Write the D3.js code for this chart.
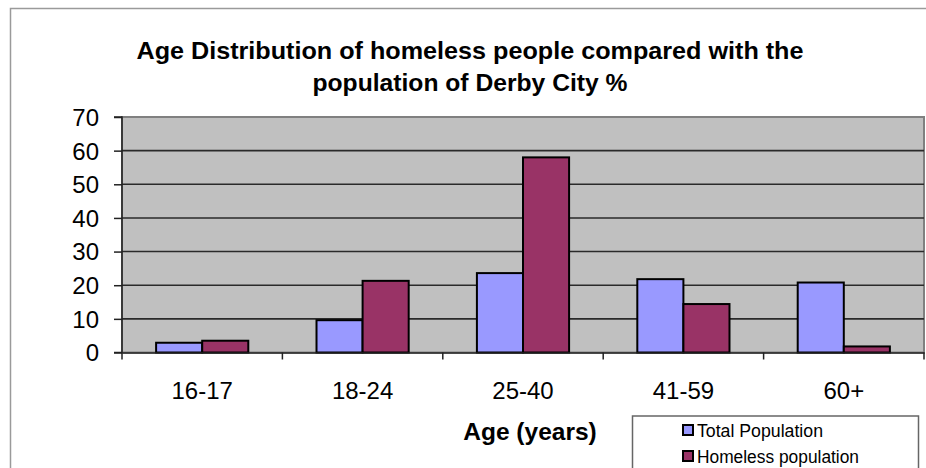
<!DOCTYPE html>
<html><head><meta charset="utf-8">
<script src="https://cdn.jsdelivr.net/npm/d3@7"></script>
<style>html,body{margin:0;padding:0;background:#fff;}svg{display:block;font-family:Arial,"Liberation Sans",sans-serif;}</style>
</head><body>
<svg id="c" width="926" height="468"></svg>
<script>
const categories = ["16-17","18-24","25-40","41-59","60+"];
const totalPopulation = [2.9, 9.6, 23.6, 21.8, 20.8];
const homelessPopulation = [3.5, 21.3, 58.0, 14.4, 1.8];
const seriesNames = ["Total Population","Homeless population"];
const seriesColors = ["#9999ff","#993366"];
const yTicks = [0,10,20,30,40,50,60,70];
const titleLines = ["Age Distribution of homeless people compared with the","population of Derby City %"];
const xTitle = "Age (years)";

const svg = d3.select("#c");
const m = {left:122, right:924, top:117, bottom:352.5};

// outer chart border
svg.append("path").attr("d","M10.5,468 V8.5 H926").attr("fill","none").attr("stroke","#9a9a9a").attr("stroke-width",1.5);

const x = d3.scaleBand().domain(categories).range([m.left,m.right]).paddingInner(0).paddingOuter(0);
const y = d3.scaleLinear().domain([0,70]).range([m.bottom,m.top]);

// plot area
svg.append("rect").attr("x",m.left).attr("y",m.top).attr("width",m.right-m.left).attr("height",m.bottom-m.top)
  .attr("fill","#c0c0c0").attr("stroke","#808080").attr("stroke-width",2);

// gridlines
svg.append("g").selectAll("line").data(yTicks.filter(d=>d>0 && d<70)).join("line")
  .attr("x1",m.left).attr("x2",m.right).attr("y1",d=>y(d)).attr("y2",d=>y(d))
  .attr("stroke","#2a2a2a").attr("stroke-width",1.6);

// bars
const inner = d3.scaleBand().domain([0,1]).range([0,x.bandwidth()]).paddingOuter(0.74).paddingInner(0);
const data = categories.map((c,i)=>({c, v:[totalPopulation[i], homelessPopulation[i]]}));
const g = svg.append("g");
data.forEach(d=>{
  d.v.forEach((v,k)=>{
    g.append("rect").attr("x",x(d.c)+inner(k)).attr("y",y(v)).attr("width",inner.bandwidth()).attr("height",y(0)-y(v))
      .attr("fill",seriesColors[k]).attr("stroke","#000").attr("stroke-width",2);
  });
});

// y axis
const ya = d3.axisLeft(y).tickValues(yTicks).tickSize(8).tickPadding(15);
const yg = svg.append("g").attr("transform",`translate(${m.left},0)`).call(ya);
yg.select(".domain").attr("stroke","#222").attr("stroke-width",1.5).attr("d",`M-8,${m.bottom}H0V${m.top}H-8`);
yg.selectAll(".tick line").attr("stroke","#222").attr("stroke-width",1.5);
yg.selectAll(".tick text").attr("font-size",24).attr("fill","#000").attr("font-family","Arial,'Liberation Sans',sans-serif").attr("dy","0.35em");

// x axis
const xa = d3.axisBottom(x).tickSize(0).tickPadding(29);
const xg = svg.append("g").attr("transform",`translate(0,${m.bottom})`).call(xa);
xg.select(".domain").attr("stroke","#222").attr("stroke-width",1.5);
xg.selectAll(".tick text").attr("font-size",24).attr("fill","#000").attr("font-family","Arial,'Liberation Sans',sans-serif");
// category boundary tick marks
const bounds = categories.map(c=>x(c)).concat([m.right]);
svg.append("g").selectAll("line").data(bounds).join("line")
  .attr("x1",d=>d).attr("x2",d=>d).attr("y1",m.bottom).attr("y2",m.bottom+7)
  .attr("stroke","#222").attr("stroke-width",1.5);

// title
svg.append("text").attr("x",470).attr("y",59).attr("text-anchor","middle").attr("font-size",24).attr("font-weight","bold")
  .attr("textLength",667).attr("lengthAdjust","spacingAndGlyphs").text(titleLines[0]);
svg.append("text").attr("x",470).attr("y",91).attr("text-anchor","middle").attr("font-size",24).attr("font-weight","bold")
  .attr("textLength",315).attr("lengthAdjust","spacingAndGlyphs").text(titleLines[1]);

// x title
svg.append("text").attr("x",530).attr("y",440).attr("text-anchor","middle").attr("font-size",24.5).attr("font-weight","bold").text(xTitle);

// legend
const lg = svg.append("g");
lg.append("rect").attr("x",632.5).attr("y",416).attr("width",286).attr("height",60).attr("fill","#fff").attr("stroke","#666").attr("stroke-width",1.5);
const legendWidths = [126, 162];
seriesNames.forEach((n,i)=>{
  const yy = 430 + i*26;
  lg.append("rect").attr("x",683).attr("y",yy-5).attr("width",10).attr("height",10).attr("fill",seriesColors[i]).attr("stroke","#000").attr("stroke-width",2);
  lg.append("text").attr("x",697).attr("y",yy+6.5).attr("font-size",17.5).attr("fill","#000")
    .attr("textLength",legendWidths[i]).attr("lengthAdjust","spacingAndGlyphs").text(n);
});
</script>
</body></html>
